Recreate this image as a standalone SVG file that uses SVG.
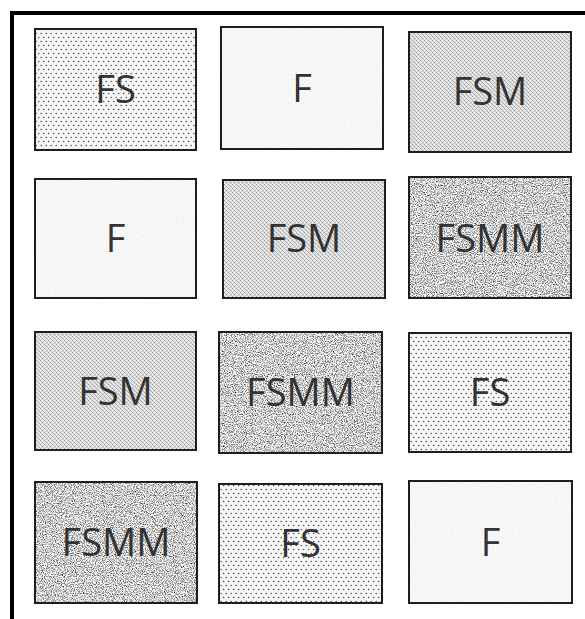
<svg xmlns="http://www.w3.org/2000/svg" width="585" height="619" viewBox="0 0 585 619">
<style>
.box{stroke:#1e1e1e;stroke-width:2}
.lbl{font-family:"Open Sans","Noto Sans",sans-serif;font-size:38px;fill:#333;text-anchor:middle}
.fs{fill:url(#dots)}
.fsm{fill:url(#grain)}
.frame{stroke:#000;stroke-width:4;fill:none}
</style>
<defs>
<pattern id="dots" width="5" height="8" patternUnits="userSpaceOnUse">
<rect width="5" height="8" fill="#f7f7f7"/>
<circle cx="1.2" cy="1.5" r="0.75" fill="#444"/>
<circle cx="3.7" cy="5.5" r="0.75" fill="#444"/>
</pattern>
<pattern id="grain" width="4" height="4" patternUnits="userSpaceOnUse">
<rect width="4" height="4" fill="#dedede"/>
<rect x="0" y="0" width="1" height="1" fill="#a0a0a0"/>
<rect x="2" y="2" width="1" height="1" fill="#a0a0a0"/>
<rect x="1" y="1" width="1" height="1" fill="#bcbcbc"/>
<rect x="3" y="3" width="1" height="1" fill="#bcbcbc"/>
<rect x="2" y="0" width="1" height="1" fill="#f2f2f2"/>
<rect x="0" y="2" width="1" height="1" fill="#f2f2f2"/>
</pattern>
<filter id="speckle" x="0" y="0" width="1" height="1" color-interpolation-filters="sRGB">
<feTurbulence type="fractalNoise" baseFrequency="0.9" numOctaves="3" seed="7"/>
<feColorMatrix type="matrix" values="1.7 0 0 0 -0.05  1.7 0 0 0 -0.05  1.7 0 0 0 -0.05  0 0 0 0 1"/>
</filter>
<filter id="paper" x="0" y="0" width="1" height="1" color-interpolation-filters="sRGB">
<feTurbulence type="fractalNoise" baseFrequency="0.9" numOctaves="2" seed="3"/>
<feColorMatrix type="matrix" values="0.1 0 0 0 0.915  0.1 0 0 0 0.915  0.1 0 0 0 0.915  0 0 0 0 1"/>
</filter>
</defs>
<rect width="585" height="619" fill="#fff"/>
<g id="frame">
<line class="frame" x1="10" y1="13" x2="585" y2="13"/>
<line class="frame" x1="12" y1="11" x2="12" y2="619"/>
</g>
<!-- Row 1 -->
<g id="r1c1">
<rect class="box fs" x="35" y="29" width="161" height="121"/>
<text class="lbl" x="115.5" y="103">FS</text>
</g>
<g id="r1c2">
<rect x="221" y="27" width="162" height="122" fill="#f4f4f4" filter="url(#paper)"/>
<rect class="box" x="221" y="27" width="162" height="122" fill="none"/>
<text class="lbl" x="302" y="102">F</text>
</g>
<g id="r1c3">
<rect class="box fsm" x="409" y="32" width="162" height="120"/>
<text class="lbl" x="490" y="105">FSM</text>
</g>
<!-- Row 2 -->
<g id="r2c1">
<rect x="35" y="179" width="161" height="119" fill="#f4f4f4" filter="url(#paper)"/>
<rect class="box" x="35" y="179" width="161" height="119" fill="none"/>
<text class="lbl" x="115.5" y="252">F</text>
</g>
<g id="r2c2">
<rect class="box fsm" x="223" y="180" width="162" height="118"/>
<text class="lbl" x="304" y="252">FSM</text>
</g>
<g id="r2c3">
<rect x="409" y="177" width="162" height="121" fill="#c0c0c0" filter="url(#speckle)"/>
<rect class="box" x="409" y="177" width="162" height="121" fill="none"/>
<text class="lbl" x="490" y="252">FSMM</text>
</g>
<!-- Row 3 -->
<g id="r3c1">
<rect class="box fsm" x="35" y="332" width="161" height="118"/>
<text class="lbl" x="115.5" y="405">FSM</text>
</g>
<g id="r3c2">
<rect x="219" y="332" width="163" height="121" fill="#c0c0c0" filter="url(#speckle)"/>
<rect class="box" x="219" y="332" width="163" height="121" fill="none"/>
<text class="lbl" x="300.5" y="406">FSMM</text>
</g>
<g id="r3c3">
<rect class="box fs" x="409" y="333" width="162" height="119"/>
<text class="lbl" x="490" y="406">FS</text>
</g>
<!-- Row 4 -->
<g id="r4c1">
<rect x="35" y="482" width="162" height="121" fill="#c0c0c0" filter="url(#speckle)"/>
<rect class="box" x="35" y="482" width="162" height="121" fill="none"/>
<text class="lbl" x="116" y="556">FSMM</text>
</g>
<g id="r4c2">
<rect class="box fs" x="219" y="484" width="163" height="119"/>
<text class="lbl" x="300.5" y="557">FS</text>
</g>
<g id="r4c3">
<rect x="409" y="481" width="163" height="122" fill="#f4f4f4" filter="url(#paper)"/>
<rect class="box" x="409" y="481" width="163" height="122" fill="none"/>
<text class="lbl" x="490.5" y="556">F</text>
</g>
</svg>
